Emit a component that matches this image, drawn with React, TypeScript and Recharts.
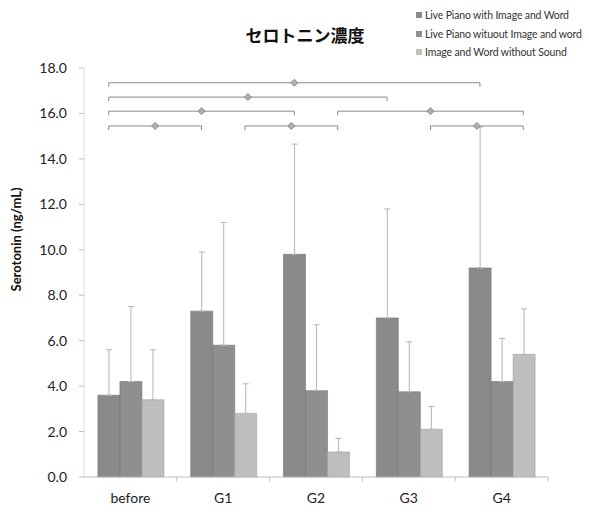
import React from 'react';
import {
  BarChart,
  Bar,
  XAxis,
  YAxis,
  ErrorBar,
  ReferenceLine,
  ReferenceDot,
} from 'recharts';

const groups = ['before', 'G1', 'G2', 'G3', 'G4'];

const seriesNames = [
  'Live Piano with Image and Word',
  'Live Piano wituout Image and word',
  'Image and Word without Sound',
];

// mean serotonin (ng/mL) per session
const withImage = [3.6, 7.3, 9.8, 7.0, 9.2];
const withoutImage = [4.2, 5.8, 3.8, 3.75, 4.2];
const withoutSound = [3.4, 2.8, 1.1, 2.1, 5.4];

// standard deviations (drawn upward only)
const withImageSd = [2.0, 2.6, 4.85, 4.8, 6.2];
const withoutImageSd = [3.3, 5.4, 2.9, 2.2, 1.9];
const withoutSoundSd = [2.2, 1.3, 0.6, 1.0, 2.0];

const yTicks = [0, 2, 4, 6, 8, 10, 12, 14, 16, 18];

// significance brackets: [group, series] -> [group, series] at a height
const brackets = [
  { from: [0, 0], to: [4, 0], level: 17.35 },
  { from: [0, 0], to: [3, 0], level: 16.72 },
  { from: [0, 0], to: [2, 0], level: 16.1 },
  { from: [2, 2], to: [4, 2], level: 16.1 },
  { from: [0, 0], to: [1, 0], level: 15.45 },
  { from: [1, 2], to: [2, 2], level: 15.45 },
  { from: [3, 2], to: [4, 2], level: 15.45 },
];

const colors = ['#8a8a8a', '#8f8f8f', '#bebebe'];

const data = groups.map((g, i) => ({
  name: g,
  pos: i + 0.5,
  a: withImage[i],
  b: withoutImage[i],
  c: withoutSound[i],
  aErr: [0, withImageSd[i]],
  bErr: [0, withoutImageSd[i]],
  cErr: [0, withoutSoundSd[i]],
}));

// bar centre on the helper numeric axis (one unit per category)
const GAP = 0.15;
const barX = (g: number, s: number) => g + GAP + ((1 - 2 * GAP) / 3) * (s + 0.5);

const font = 'Lato, "Open Sans", sans-serif';

const Marker = (props: any) => {
  const { cx, cy } = props;
  const r = 3.5;
  return (
    <path
      d={`M${cx},${cy - r} L${cx + r},${cy} L${cx},${cy + r} L${cx - r},${cy} Z`}
      fill="#b0b0b0"
      stroke="#8a8a8a"
      strokeWidth={1}
    />
  );
};

export default function App() {
  return (
    <div style={{ position: 'absolute', left: 0, top: 0, width: 589, height: 512, background: '#fff', overflow: 'hidden' }}>
      <div
        style={{
          position: 'absolute',
          left: 205,
          top: 22,
          width: 200,
          textAlign: 'center',
          fontFamily: '"Noto Sans CJK JP", sans-serif',
          fontWeight: 700,
          fontSize: 17,
          color: '#111',
        }}
      >
        セロトニン濃度
      </div>
      <div
        style={{
          position: 'absolute',
          left: 416,
          top: 6,
          fontFamily: font,
          fontSize: 10.5,
          color: '#333',
          lineHeight: '18.5px',
          whiteSpace: 'nowrap',
          letterSpacing: -0.15,
        }}
      >
        {seriesNames.map((n, i) => (
          <div key={n} style={{ display: 'flex', alignItems: 'center' }}>
            <span style={{ width: 6, height: 6, background: colors[i], marginRight: 3, display: 'inline-block' }} />
            {n}
          </div>
        ))}
      </div>
      <BarChart
        width={589}
        height={512}
        data={data}
        margin={{ top: 68, right: 41, bottom: 5, left: 10 }}
        barCategoryGap={`${GAP * 100}%`}
        barGap={0}
      >
        <XAxis
          dataKey="name"
          tickLine={false}
          axisLine={{ stroke: '#bdbdbd' }}
          tick={{ fill: '#222', fontSize: 14, fontFamily: font }}
          tickMargin={10}
          height={30}
        />
        <XAxis xAxisId="pos" dataKey="pos" type="number" domain={[0, 5]} allowDataOverflow hide />
        <YAxis
          domain={[0, 18]}
          ticks={yTicks}
          width={74}
          tickFormatter={(v) => v.toFixed(1)}
          tick={{ fill: '#222', fontSize: 14, fontFamily: font }}
          axisLine={{ stroke: '#dcdcdc' }}
          tickLine={{ stroke: '#bdbdbd' }}
          tickSize={5}
          tickMargin={12}
          label={{
            value: 'Serotonin (ng/mL)',
            angle: -90,
            position: 'insideLeft',
            offset: 6,
            dy: -33,
            style: { textAnchor: 'middle', fontWeight: 700, fontSize: 13, fill: '#111', fontFamily: font },
          }}
        />
        <Bar dataKey="a" fill={colors[0]} stroke="#747474" strokeWidth={0.6} isAnimationActive={false}>
          <ErrorBar dataKey="aErr" direction="y" width={3} stroke="#b5b5b5" strokeWidth={1} />
        </Bar>
        <Bar dataKey="b" fill={colors[1]} stroke="#747474" strokeWidth={0.6} isAnimationActive={false}>
          <ErrorBar dataKey="bErr" direction="y" width={3} stroke="#b5b5b5" strokeWidth={1} />
        </Bar>
        <Bar dataKey="c" fill={colors[2]} stroke="#a0a0a0" strokeWidth={0.6} isAnimationActive={false}>
          <ErrorBar dataKey="cErr" direction="y" width={3} stroke="#b5b5b5" strokeWidth={1} />
        </Bar>
        {/* category boundary ticks below the x axis */}
        {[1, 2, 3, 4, 5].map((x) => (
          <ReferenceLine
            key={`t${x}`}
            xAxisId="pos"
            segment={[{ x, y: 0 }, { x, y: -0.2 }]}
            stroke="#bdbdbd"
            ifOverflow="visible"
          />
        ))}
        {brackets.map((b, i) => {
          const x1 = barX(b.from[0], b.from[1]);
          const x2 = barX(b.to[0], b.to[1]);
          const drop = 0.18;
          return (
            <React.Fragment key={`b${i}`}>
              <ReferenceLine
                xAxisId="pos"
                segment={[{ x: x1, y: b.level - drop }, { x: x1, y: b.level }]}
                stroke="#8a8a8a"
              />
              <ReferenceLine
                xAxisId="pos"
                segment={[{ x: x1, y: b.level }, { x: x2, y: b.level }]}
                stroke="#8a8a8a"
              />
              <ReferenceLine
                xAxisId="pos"
                segment={[{ x: x2, y: b.level }, { x: x2, y: b.level - drop }]}
                stroke="#8a8a8a"
              />
              <ReferenceDot xAxisId="pos" x={(x1 + x2) / 2} y={b.level} shape={Marker} />
            </React.Fragment>
          );
        })}
      </BarChart>
    </div>
  );
}
